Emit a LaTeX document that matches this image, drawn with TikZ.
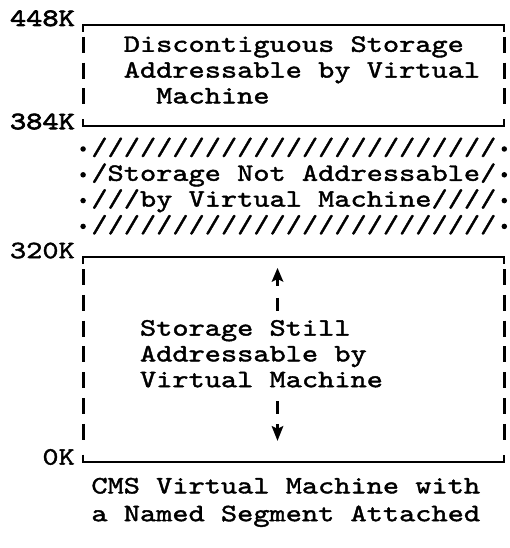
\documentclass[tikz,border=0pt]{standalone}
\usepackage{fontspec}
% Latin Modern Mono, thickened and widened to a 16.2pt character pitch at 25pt
\newfontfamily\typefont{lmmono10-regular.otf}[FakeBold=1.6, FakeStretch=1.234]
\newfontfamily\heavytypefont{lmmono10-regular.otf}[FakeBold=2.8, FakeStretch=1.234]
% character grid: column c starts at \cl{c}, its centre is \cc{c}; row r has baseline \ry{r}
\newcommand{\cl}[1]{(75+16.2*(#1))}
\newcommand{\cc}[1]{(83.1+16.2*(#1))}
\newcommand{\ry}[1]{(26+25.8*(#1))}
\begin{document}
\begin{tikzpicture}[x=1pt,y=-1pt,
  txt/.style={font=\typefont\fontsize{25}{25}\selectfont, inner sep=0pt, anchor=base west},
  lbl/.style={txt, anchor=base east},
  heavylbl/.style={lbl, font=\heavytypefont\fontsize{25}{25}\selectfont},
  rule/.style={line width=2pt, line cap=butt},
  bar/.style={line width=2.8pt},
  thinbar/.style={line width=2.4pt},
  dotmark/.style={fill, circle, inner sep=0pt, minimum size=5.5pt}]
\useasboundingbox (0,0) rectangle (510,548);

% ---------- upper segment: 448K .. 384K ----------
\node[heavylbl] (k448) at ({\cl{0}},{\ry{0}}) {448K};
\node[heavylbl] (k384) at ({\cl{0}},{\ry{4}}) {384K};
\draw[rule] ({\cc{0}},{\ry{0}+6}) -- ({\cc{0}},{\ry{0}-1}) -- ({\cc{26}},{\ry{0}-1}) -- ({\cc{26}},{\ry{0}+6});
\draw[rule] ({\cc{0}},{\ry{4}-10}) -- ({\cc{0}},{\ry{4}-3}) -- ({\cc{26}},{\ry{4}-3}) -- ({\cc{26}},{\ry{4}-10});
\foreach \r in {1,2,3}{
  \draw[bar] ({\cc{0}},{\ry{\r}-15}) -- ({\cc{0}},{\ry{\r}+1});
  \draw[bar] ({\cc{26}},{\ry{\r}-15}) -- ({\cc{26}},{\ry{\r}+1});
}
\node[txt] (dis1) at ({\cl{3}},{\ry{1}}) {Discontiguous Storage};
\node[txt] (dis2) at ({\cl{3}},{\ry{2}}) {Addressable by Virtual};
\node[txt] (dis3) at ({\cl{5}},{\ry{3}}) {Machine};

% ---------- hatched gap: not addressable ----------
\foreach \r in {5,6,7,8}{
  \node[dotmark] at ({\cc{0}},{\ry{\r}-6}) {};
  \node[dotmark] at ({\cc{26}},{\ry{\r}-6}) {};
}
\node[txt] (h1) at ({\cl{1}},{\ry{5}}) {/////////////////////////};
\node[txt] (h2) at ({\cl{1}},{\ry{6}}) {/Storage Not Addressable/};
\node[txt] (h3) at ({\cl{1}},{\ry{7}}) {///by Virtual Machine////};
\node[txt] (h4) at ({\cl{1}},{\ry{8}}) {/////////////////////////};

% ---------- lower segment: 320K .. 0K ----------
\node[lbl] (k320) at ({\cl{0}},{\ry{9}}) {320K};
\node[lbl] (k0) at ({\cl{0}},{\ry{17}}) {0K};
\draw[rule] ({\cc{0}},{\ry{9}+6}) -- ({\cc{0}},{\ry{9}-1}) -- ({\cc{26}},{\ry{9}-1}) -- ({\cc{26}},{\ry{9}+6});
\draw[rule] ({\cc{0}},{\ry{17}-10}) -- ({\cc{0}},{\ry{17}-3}) -- ({\cc{26}},{\ry{17}-3}) -- ({\cc{26}},{\ry{17}-10});
\foreach \r in {10,...,16}{
  \draw[bar] ({\cc{0}},{\ry{\r}-15}) -- ({\cc{0}},{\ry{\r}+1});
  \draw[bar] ({\cc{26}},{\ry{\r}-15}) -- ({\cc{26}},{\ry{\r}+1});
}
\node[txt] (st1) at ({\cl{4}},{\ry{12}}) {Storage Still};
\node[txt] (st2) at ({\cl{4}},{\ry{13}}) {Addressable by};
\node[txt] (st3) at ({\cl{4}},{\ry{14}}) {Virtual Machine};

% up and down arrow marks in column 12
\fill ({\cc{12}},{\ry{10}-16}) -- ({\cc{12}+6},{\ry{10}-2}) -- ({\cc{12}},{\ry{10}-5}) -- ({\cc{12}-6},{\ry{10}-2}) -- cycle;
\draw[thinbar] ({\cc{12}},{\ry{10}-6}) -- ({\cc{12}},{\ry{10}+2});
\draw[thinbar] ({\cc{12}},{\ry{11}-12}) -- ({\cc{12}},{\ry{11}+1});
\draw[thinbar] ({\cc{12}},{\ry{15}-12}) -- ({\cc{12}},{\ry{15}+1});
\draw[thinbar] ({\cc{12}},{\ry{16}-15}) -- ({\cc{12}},{\ry{16}-8});
\fill ({\cc{12}},{\ry{16}+2}) -- ({\cc{12}+6},{\ry{16}-13}) -- ({\cc{12}},{\ry{16}-10}) -- ({\cc{12}-6},{\ry{16}-13}) -- cycle;

% ---------- caption ----------
\node[txt] (cap1) at ({\cl{1}},{\ry{18}+3}) {CMS Virtual Machine with};
\node[txt] (cap2) at ({\cl{1}},{\ry{19}+5}) {a Named Segment Attached};
\end{tikzpicture}
\end{document}
